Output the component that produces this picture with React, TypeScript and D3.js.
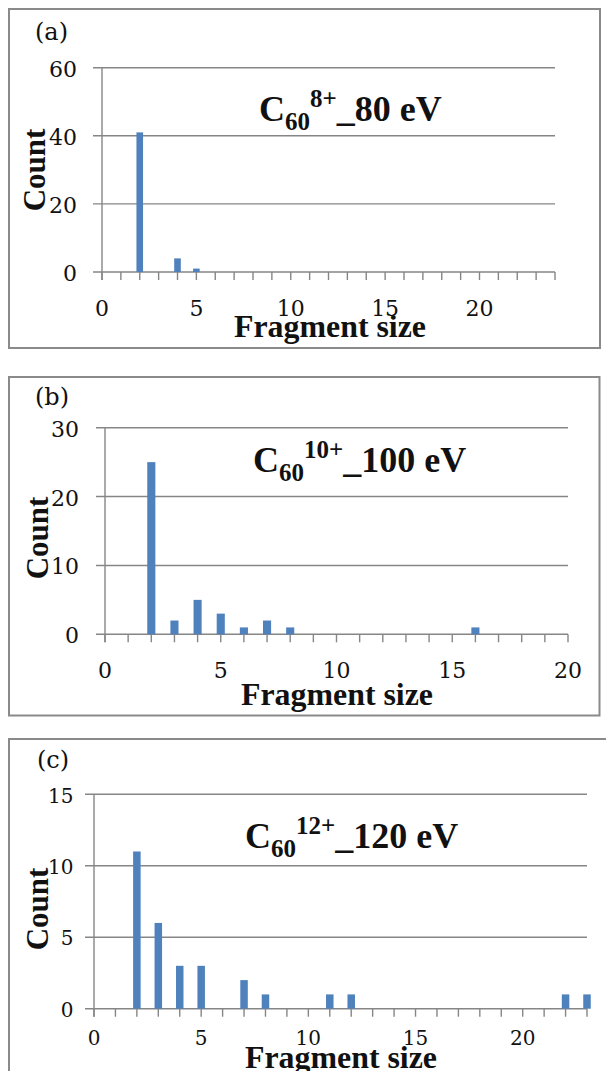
import React from "react";
import * as d3 from "d3";

// ---- data ----
const sizesA = [2, 4, 5];
const countsA = [41, 4, 1];
const sizesB = [2, 3, 4, 5, 6, 7, 8, 16];
const countsB = [25, 2, 5, 3, 1, 2, 1, 1];
const sizesC = [2, 3, 4, 5, 7, 8, 11, 12, 22, 23];
const countsC = [11, 6, 3, 3, 2, 1, 1, 1, 1, 1];

const yTicksA = [0, 20, 40, 60];
const yTicksB = [0, 10, 20, 30];
const yTicksC = [0, 5, 10, 15];
const xTicksLabels = [0, 5, 10, 15, 20];
const xMaxes = [24, 20, 23];

const panelLabels = ["(a)", "(b)", "(c)"];
const charges = ["8+", "10+", "12+"];
const energies = ["_80 eV", "_100 eV", "_120 eV"];
const yTitle = "Count";
const xTitle = "Fragment size";

// ---- layout (positions only) ----
const layouts = [
  { border: [9, 9, 600, 348], x0: 102, x1: 555, yTop: 67.7, yZero: 272, yLabR: 77, xLabY: 316, tickFont: 22,
    titleX: 259, titleY: 120.5, tagX: 35, tagY: 40, countX: 45, countY: 170, fragX: 330, fragY: 337 },
  { border: [9, 377, 599.5, 715.5], x0: 105, x1: 568, yTop: 427.7, yZero: 634.3, yLabR: 79, xLabY: 678, tickFont: 22,
    titleX: 253, titleY: 472, tagX: 35, tagY: 405, countX: 48, countY: 538, fragX: 337, fragY: 705 },
  { border: [9, 739, 608, 1090], x0: 94, x1: 587, yTop: 794.3, yZero: 1008.7, yLabR: 73.5, xLabY: 1045, tickFont: 20,
    titleX: 245, titleY: 848, tagX: 37, tagY: 768, countX: 48, countY: 909, fragX: 341, fragY: 1068 },
];

const sizesAll = [sizesA, sizesB, sizesC];
const countsAll = [countsA, countsB, countsC];
const yTicksAll = [yTicksA, yTicksB, yTicksC];

const GRID = "#868686";
const BAR = "#4f81bd";
const SERIF_BOLD = "'Liberation Serif', 'Times New Roman', serif";
const SERIF_NUM = "'DejaVu Serif', serif";

function Panel({ i }: { i: number }) {
  const L = layouts[i];
  const sizes = sizesAll[i];
  const counts = countsAll[i];
  const yTicks = yTicksAll[i];
  const xMax = xMaxes[i];
  const yMax = yTicks[yTicks.length - 1];
  const x = d3.scaleLinear().domain([0, xMax]).range([L.x0, L.x1]);
  const y = d3.scaleLinear().domain([0, yMax]).range([L.yZero, L.yTop]);
  const unit = x(1) - x(0);
  const bw = unit * 0.35;
  const minorTicks = d3.range(0, xMax + 1);
  const [bx0, by0, bx1, by1] = L.border;
  return (
    <g>
      <rect x={bx0} y={by0} width={bx1 - bx0} height={by1 - by0} fill="white" stroke="#8a8a8a" strokeWidth={2} />
      {yTicks.map((t) => (
        <g key={"g" + t}>
          <line x1={L.x0 - 9} x2={L.x1} y1={y(t)} y2={y(t)} stroke={GRID} strokeWidth={1.4} />
          <text x={L.yLabR} y={y(t) + L.tickFont * 0.41} textAnchor="end" fontFamily={SERIF_NUM} fontSize={L.tickFont} fill="#111">
            {t}
          </text>
        </g>
      ))}
      <line x1={L.x0} x2={L.x0} y1={L.yTop} y2={L.yZero + 8} stroke={GRID} strokeWidth={1.4} />
      {minorTicks.map((t) => (
        <line key={"t" + t} x1={x(t)} x2={x(t)} y1={L.yZero} y2={L.yZero + 8} stroke={GRID} strokeWidth={1.4} />
      ))}
      {xTicksLabels.filter((t) => t <= xMax).map((t) => (
        <text key={"xl" + t} x={x(t)} y={L.xLabY} textAnchor="middle" fontFamily={SERIF_NUM} fontSize={L.tickFont} fill="#111">
          {t}
        </text>
      ))}
      {sizes.map((s, k) => (
        <rect key={"b" + s} x={x(s) - bw / 2} y={y(counts[k])} width={bw} height={L.yZero - y(counts[k])} fill={BAR} />
      ))}
      <text x={L.tagX} y={L.tagY} fontFamily={SERIF_NUM} fontSize={24} fill="#111">{panelLabels[i]}</text>
      <text x={L.titleX} y={L.titleY} fontFamily={SERIF_BOLD} fontWeight="bold" fill="#111">
        <tspan fontSize={36}>C</tspan>
        <tspan fontSize={25} dy={9}>60</tspan>
        <tspan fontSize={25} dy={-23}>{charges[i]}</tspan>
        <tspan fontSize={36} dy={14}>{energies[i]}</tspan>
      </text>
      <text
        transform={`translate(${L.countX},${L.countY}) rotate(-90)`}
        textAnchor="middle"
        fontFamily={SERIF_BOLD}
        fontWeight="bold"
        fontSize={31}
        fill="#111"
      >
        {yTitle}
      </text>
      <text
        x={L.fragX}
        y={L.fragY}
        textAnchor="middle"
        fontFamily={SERIF_BOLD}
        fontWeight="bold"
        fontSize={31}
        textLength={192}
        lengthAdjust="spacingAndGlyphs"
        fill="#111"
      >
        {xTitle}
      </text>
    </g>
  );
}

export default function App() {
  return (
    <svg width={606} height={1071} style={{ position: "absolute", left: 0, top: 0, background: "white" }}>
      <rect x={0} y={0} width={606} height={1071} fill="white" />
      {[0, 1, 2].map((i) => (
        <Panel key={i} i={i} />
      ))}
    </svg>
  );
}
